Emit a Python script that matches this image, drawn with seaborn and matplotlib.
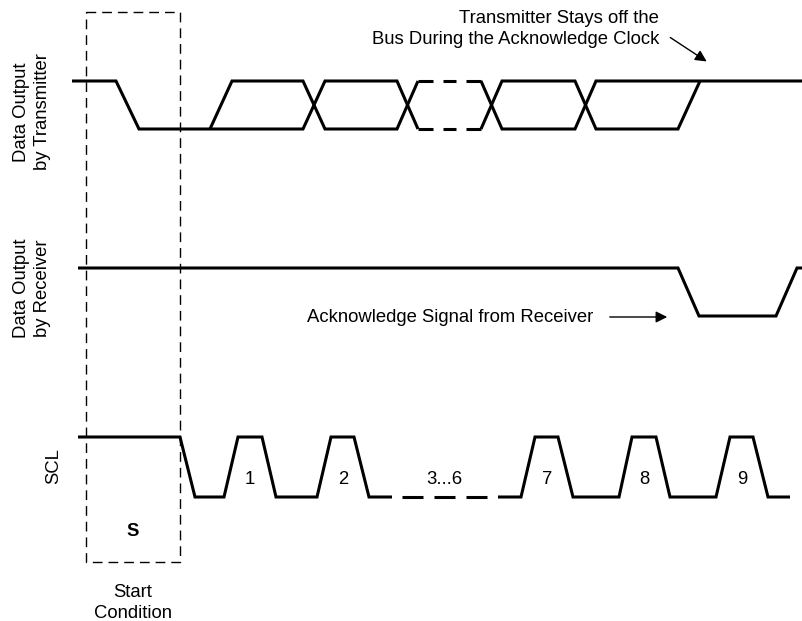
#
# i2c_ack_timing.py
#

import numpy as np
import matplotlib.pyplot as plt
import seaborn as sns
import pandas as pd

# waveform vertices: x position and logic level (1 = high, 0 = low)
tx_a_x = [72, 116, 139, 303, 325, 397, 418]
tx_a_lvl = [1, 1, 0, 0, 1, 1, 0]
tx_b_x = [210, 232, 303, 325, 397, 418]
tx_b_lvl = [0, 1, 1, 0, 0, 1]
tx_c_x = [481, 502, 575, 596, 803]
tx_c_lvl = [1, 0, 0, 1, 1]
tx_d_x = [481, 502, 575, 596, 678, 700]
tx_d_lvl = [0, 1, 1, 0, 0, 1]
tx_gap_dashes = [(418, 433), (443, 456), (466, 481)]   # both levels

rx_x = [78, 678, 699, 776, 797, 803]
rx_lvl = [1, 1, 0, 0, 1, 1]

scl_a_x = [78, 180, 195, 224, 238, 262, 276, 317, 331, 354, 369, 392]
scl_a_lvl = [1, 1, 0, 0, 1, 1, 0, 0, 1, 1, 0, 0]
scl_gap_dashes = [(402, 423), (434, 455), (466, 487)]  # low level only
scl_b_x = [498, 521, 535, 558, 573, 619, 632, 656, 670, 716, 730, 753, 768, 790]
scl_b_lvl = [0, 0, 1, 1, 0, 0, 1, 1, 0, 0, 1, 1, 0, 0]

clock_labels = ['1', '2', '3...6', '7', '8', '9']
clock_label_x = [250, 343, 444, 547, 644, 742]

# (high y, low y) in figure pixels for each trace
TX = (81, 129)
RX = (268, 316)
SCL = (437, 497)


def to_rows(xs, lvls, lane, seg):
    hi, lo = lane
    return [{'x': x, 'y': lo - l * (lo - hi), 'seg': seg} for x, l in zip(xs, lvls)]


rows = []
rows += to_rows(tx_a_x, tx_a_lvl, TX, 'tx_a')
rows += to_rows(tx_b_x, tx_b_lvl, TX, 'tx_b')
rows += to_rows(tx_c_x, tx_c_lvl, TX, 'tx_c')
rows += to_rows(tx_d_x, tx_d_lvl, TX, 'tx_d')
for i, (x0, x1) in enumerate(tx_gap_dashes):
    rows += to_rows([x0, x1], [1, 1], TX, 'txh%d' % i)
    rows += to_rows([x0, x1], [0, 0], TX, 'txl%d' % i)
rows += to_rows(rx_x, rx_lvl, RX, 'rx')
rows += to_rows(scl_a_x, scl_a_lvl, SCL, 'scl_a')
for i, (x0, x1) in enumerate(scl_gap_dashes):
    rows += to_rows([x0, x1], [0, 0], SCL, 'scld%d' % i)
rows += to_rows(scl_b_x, scl_b_lvl, SCL, 'scl_b')
df = pd.DataFrame(rows)

sns.set_style("white")
plt.rcParams['font.family'] = ['Liberation Sans', 'DejaVu Sans']
plt.rcParams['text.color'] = 'black'
FS = 13.3
LS = 1.35

fig = plt.figure(figsize=(8.03, 6.21), dpi=100)
ax = fig.add_axes([0, 0, 1, 1])

sns.lineplot(data=df, x='x', y='y', units='seg', estimator=None, sort=False,
             color='black', linewidth=2.2, legend=False, ax=ax)
for line in ax.get_lines():
    line.set_solid_joinstyle('miter')
    line.set_solid_capstyle('butt')

# start condition box
ax.plot([86, 180, 180, 86, 86], [12, 12, 562, 562, 12], color='black', lw=1.0,
        ls=(0, (7, 4.3)))
ax.text(133, 531, 'S', ha='center', va='center', fontsize=FS, fontweight='bold')
ax.text(133, 603, 'Start\nCondition', ha='center', va='center', fontsize=FS,
        linespacing=LS)

# lane labels
ax.text(32, 112, 'Data Output\nby Transmitter', rotation=90, ha='center', va='center',
        fontsize=FS, multialignment='center', linespacing=LS)
ax.text(32, 288, 'Data Output\nby Receiver', rotation=90, ha='center', va='center',
        fontsize=FS, multialignment='center', linespacing=LS)
ax.text(54, 466, 'SCL', rotation=90, ha='center', va='center', fontsize=FS)

# clock numbers
for lab, x in zip(clock_labels, clock_label_x):
    ax.text(x, 479, lab, ha='center', va='center', fontsize=FS)

# annotations
ax.text(659, 29, 'Transmitter Stays off the\nBus During the Acknowledge Clock',
        ha='right', va='center', fontsize=FS, multialignment='right', linespacing=LS)
ax.annotate('', xy=(709, 63), xytext=(668, 36),
            arrowprops=dict(arrowstyle='-|>', color='black', lw=1, mutation_scale=17))
ax.text(593, 317, 'Acknowledge Signal from Receiver', ha='right', va='center', fontsize=FS)
ax.annotate('', xy=(670, 317), xytext=(607, 317),
            arrowprops=dict(arrowstyle='-|>', color='black', lw=1, mutation_scale=17))

ax.set_xlim(0, 803)
ax.set_ylim(621, 0)
ax.axis('off')

plt.savefig('out.png', dpi=100)
